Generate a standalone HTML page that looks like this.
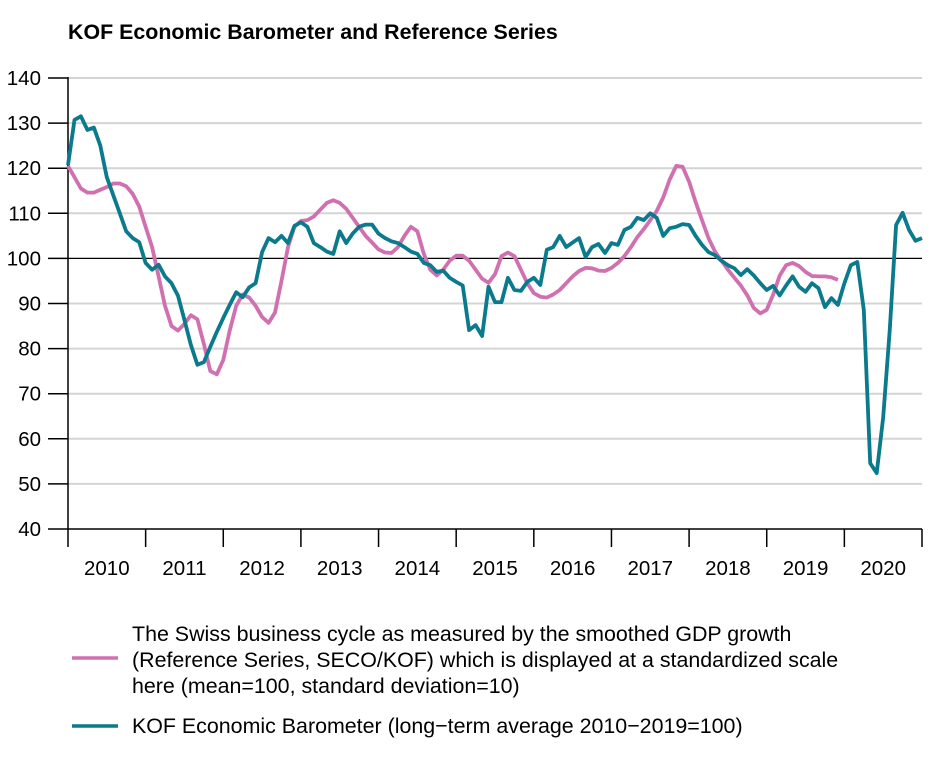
<!DOCTYPE html>
<html><head><meta charset="utf-8"><style>
body{margin:0;background:#fff;width:930px;height:774px;overflow:hidden;font-family:"Liberation Sans",Arial,sans-serif;}
svg text{font-family:"Liberation Sans",Arial,sans-serif;}
</style></head><body>
<svg id="chart" width="930" height="774" xmlns="http://www.w3.org/2000/svg">
<text x="68" y="39" font-size="21.4" font-weight="bold" fill="#000">KOF Economic Barometer and Reference Series</text>
<g id="grid"></g><g id="axes"></g><g id="series"></g>
<g>
<line x1="72" y1="658" x2="118" y2="658" stroke="#d070b0" stroke-width="3.5"/>
<text font-size="21.4" fill="#000"><tspan x="132" y="641">The Swiss business cycle as measured by the smoothed GDP growth</tspan><tspan x="132" y="667">(Reference Series, SECO/KOF) which is displayed at a standardized scale</tspan><tspan x="132" y="693">here (mean=100, standard deviation=10)</tspan></text>
<line x1="72" y1="726" x2="118" y2="726" stroke="#0a7a8c" stroke-width="3.5"/>
<text x="132" y="733" font-size="21.4" fill="#000">KOF Economic Barometer (long−term average 2010−2019=100)</text>
</g>
</svg>
<script>
const yTicks=[40,50,60,70,80,90,100,110,120,130,140];
const years=["2010","2011","2012","2013","2014","2015","2016","2017","2018","2019","2020"];
const kofValues=[120.7,130.7,131.5,128.5,129,125,118,114,110,106,104.5,103.6,
99,97.5,98.6,96,94.5,91.7,86.3,80.8,76.4,77,80.4,83.7,
86.8,89.7,92.5,91.4,93.6,94.5,101.4,104.5,103.6,105,103.4,107.2,
108,107,103.4,102.5,101.5,101,106,103.4,105.5,107,107.5,107.5,
105.5,104.5,103.8,103.4,102.5,101.5,101,99,98.5,97,97.3,95.7,
94.8,94,84.1,85.2,82.8,93.7,90.3,90.3,95.7,93,92.8,94.8,
95.7,94.1,101.9,102.5,105,102.5,103.5,104.5,100.3,102.5,103.2,101.2,
103.4,103,106.3,107,109,108.5,110,109,105,106.7,107,107.6,
107.4,105,103,101.4,100.7,99.5,98.5,97.8,96.3,97.6,96.2,94.5,
93,93.9,91.8,94,96,93.7,92.6,94.5,93.4,89.2,91.2,89.7,
94.5,98.5,99.2,88.6,54.6,52.4,64.8,84,107.4,110.1,106.3,103.9,104.5];
const refValues=[120.5,118,115.5,114.6,114.6,115.2,115.8,116.6,116.6,116,114.3,111.5,
107,102.5,96,89.5,85,84,85.5,87.4,86.5,81,75,74.3,
77.5,84,89.5,92,91.3,89.5,87,85.7,88,95,102.5,107,
108.3,108.5,109.3,110.8,112.3,112.9,112.3,111,109,107,105,103.5,
102,101.3,101.2,102.5,105,107,106,101,97.5,96.2,97.5,99.5,
100.6,100.6,99.5,97.5,95.5,94.6,96.5,100.5,101.3,100.5,97.5,94.5,
92.3,91.5,91.3,92,93,94.5,96,97.2,97.9,97.8,97.3,97.2,
97.9,99,100.5,102.5,104.7,106.5,108.5,110.5,113.5,117.5,120.5,120.3,
117,112.5,108.5,104.5,101.5,99.5,97.5,95.7,94,91.8,89,87.8,
88.6,92,96.2,98.5,99,98.3,97,96.1,96,96,95.8,95.2];
const X0=68,X1=922,YT=78,YB=529,NM=132;
const xs=m=>X0+(X1-X0)*m/NM;
const ys=v=>YB-(v-40)*(YB-YT)/100;
const NS="http://www.w3.org/2000/svg";
function mk(tag,attrs,parent){const e=document.createElementNS(NS,tag);for(const k in attrs)e.setAttribute(k,attrs[k]);parent.appendChild(e);return e;}
const grid=document.getElementById('grid'),axes=document.getElementById('axes'),ser=document.getElementById('series');
yTicks.forEach(t=>{
  const y=ys(t);
  if(t!==40&&t!==100){const g=mk('line',{x1:X0,x2:X1,y1:y,y2:y,stroke:'#d4d4d4','stroke-width':2},grid);
  
  }
  const tk=mk('line',{x1:X0-20,x2:X0,y1:y,y2:y,stroke:'#000','stroke-width':1.5},axes);
  
  
  const tx=mk('text',{x:X0-27,y:y+7,'font-size':20.5,'text-anchor':'end',fill:'#000'},axes);
  tx.textContent=t;
  
  
});
const ref=mk('line',{x1:X0,x2:X1,y1:ys(100),y2:ys(100),stroke:'#000','stroke-width':1.3},axes);


const ya=mk('line',{x1:X0,x2:X0,y1:YT-1,y2:YB+18,stroke:'#000','stroke-width':1.5},axes);


const xa=mk('line',{x1:X0,x2:X1,y1:YB,y2:YB,stroke:'#000','stroke-width':1.5},axes);


years.forEach((yr,i)=>{
  const xt=xs((i+1)*12);
  const tk=mk('line',{x1:xt,x2:xt,y1:YB,y2:YB+18,stroke:'#000','stroke-width':1.5},axes);
  
  
  const tx=mk('text',{x:xs(i*12+6),y:YB+46,'font-size':20.5,'text-anchor':'middle',fill:'#000'},axes);
  tx.textContent=yr;
  
  
});
function pathOf(vals){return vals.map((v,i)=>(i?'L':'M')+xs(i).toFixed(1)+','+ys(v).toFixed(1)).join('');}
const p1=mk('path',{d:pathOf(refValues),fill:'none',stroke:'#d070b0','stroke-width':3.8,'stroke-linejoin':'round'},ser);


const p2=mk('path',{d:pathOf(kofValues),fill:'none',stroke:'#0a7a8c','stroke-width':3.8,'stroke-linejoin':'round'},ser);


</script>
</body></html>
